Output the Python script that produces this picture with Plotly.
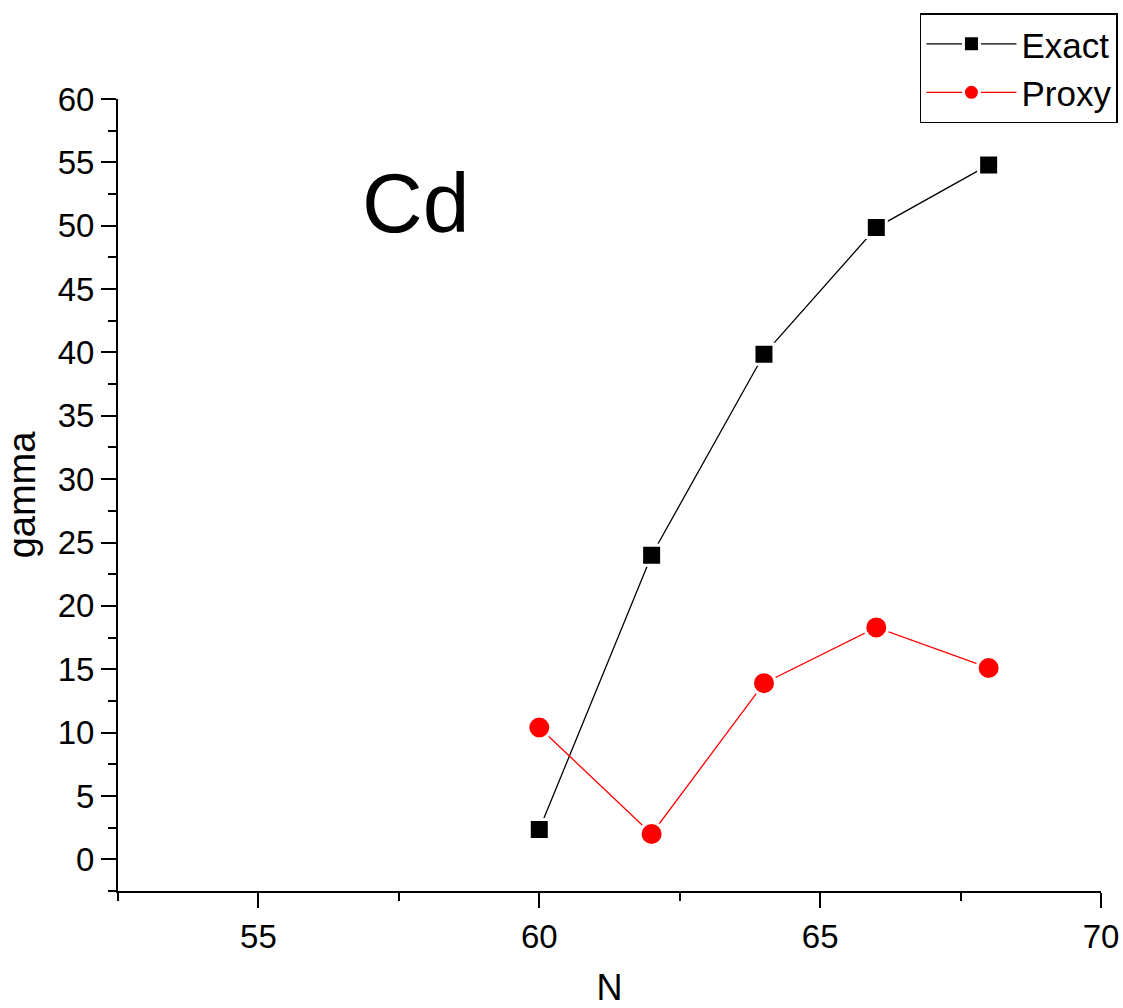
import plotly.graph_objects as go

N = [60, 62, 64, 66, 68]
exact = [2.35, 24.0, 39.85, 49.85, 54.8]
proxy = [10.4, 2.0, 13.9, 18.3, 15.1]

font_family = "Liberation Sans, Arial, sans-serif"

fig = go.Figure()
fig.add_trace(go.Scatter(
    x=N, y=exact, name="Exact", mode="lines+markers",
    line=dict(color="black", width=1.3),
    marker=dict(symbol="square", size=20, color="black",
                line=dict(color="white", width=3)),
))
fig.add_trace(go.Scatter(
    x=N, y=proxy, name="Proxy", mode="lines+markers",
    line=dict(color="red", width=1.3),
    marker=dict(symbol="circle", size=23, color="red",
                line=dict(color="white", width=3)),
))

fig.add_annotation(x=57.8, y=51.8, xref="x", yref="y", text="Cd",
                   showarrow=False, font=dict(size=84, color="black", family=font_family))

axis_common = dict(
    showline=True, linecolor="black", linewidth=2, mirror=False,
    ticks="outside", ticklen=15, tickwidth=2, tickcolor="black",
    showgrid=False, zeroline=False, automargin=False,
    tickfont=dict(size=33, color="black", family=font_family),
)

fig.update_xaxes(
    range=[52.5, 70], tick0=55, dtick=5,
    minor=dict(ticks="outside", ticklen=8, tickwidth=2, tickcolor="black", dtick=2.5, tick0=52.5),
    title=dict(text="N", font=dict(size=36, color="black", family=font_family), standoff=50),
    **axis_common,
)
fig.update_yaxes(
    range=[-2.5, 60], tick0=0, dtick=5,
    minor=dict(ticks="outside", ticklen=8, tickwidth=2, tickcolor="black", dtick=2.5, tick0=-2.5),
    title=dict(text="gamma", font=dict(size=38, color="black", family=font_family), standoff=10),
    **axis_common,
)

fig.update_layout(
    width=1123, height=1008,
    margin=dict(l=118, r=22, t=99, b=117, autoexpand=False),
    paper_bgcolor="white", plot_bgcolor="white",
    font=dict(family=font_family, color="black"),
    showlegend=True,
    legend=dict(
        xref="container", yref="container",
        x=0.9955, y=0.987, xanchor="right", yanchor="top",
        bgcolor="white", bordercolor="black", borderwidth=1.5,
        font=dict(size=35, color="black", family=font_family),
        itemwidth=90, tracegroupgap=0,
    ),
)

fig.write_html("out.html", config={"displayModeBar": False},
               post_script="document.body.style.margin='0px';")
